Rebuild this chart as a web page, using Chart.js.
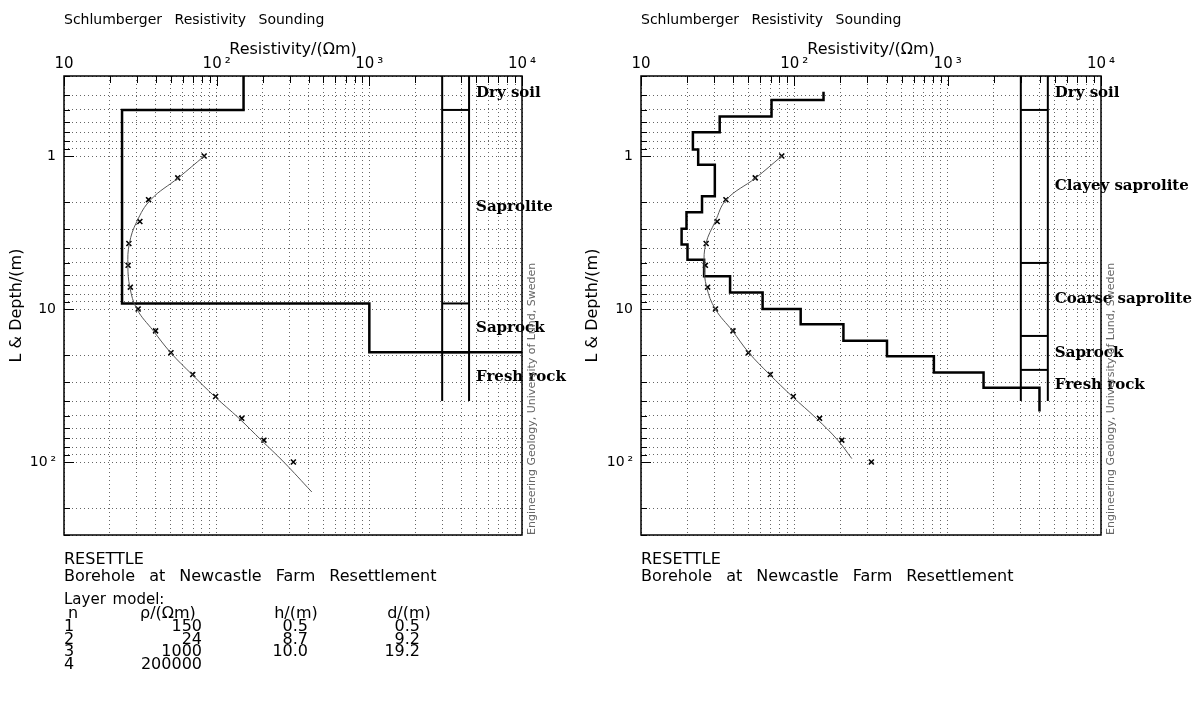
<!DOCTYPE html>
<html>
<head>
<meta charset="utf-8">
<script src="https://cdn.jsdelivr.net/npm/chart.js@4.4.0/dist/chart.umd.min.js"></script>
<style>
	body { margin: 0; background: #fff; }
	canvas { position: absolute; top: 0; }
	#left { left: 0; }
	#right { left: 580px; }
</style>
</head>
<body>
<canvas id="left" width="580" height="701"></canvas>
<canvas id="right" width="624" height="701"></canvas>
<script>
/* globals Chart:false */
// axes
const rhoMin = 10, rhoMax = 10000;
const depthMin = 0.3, depthMax = 300;
const xDecades = [10, 100, 1000, 10000];
const xTickLabels = ['10', '10\u2009²', '10\u2009³', '10\u2009⁴'];
const yDecades = [1, 10, 100];
const yTickLabels = ['1', '10', '10\u2009²'];

// field data (same sounding in both panels)
const fieldSpacing = [1, 1.39, 1.93, 2.68, 3.73, 5.18, 7.2, 10, 13.9, 19.3, 26.8, 37.3, 51.8, 72, 100];
const fieldRho = [82.8, 55.6, 35.8, 31.4, 26.6, 26.3, 27.2, 30.6, 39.8, 50.2, 69.7, 98.4, 146, 204, 318];

// left panel: 4 layer model
const leftCurveDepth = [1, 1.39, 1.93, 2.68, 3.73, 5.18, 7.2, 10, 13.9, 19.3, 26.8, 37.3, 51.8, 72, 100, 157];
const leftCurveRho = [83, 56, 37, 30, 26.8, 26.2, 27, 30, 38.5, 50, 69, 97, 140, 196, 275, 420];
const leftModelTop = 0.3;
const leftModelRho = [150, 24, 1000, 200000];
const leftModelBottom = [0.5, 9.2, 19.2];
const leftLayerNames = ['Dry soil', 'Saprolite', 'Saprock', 'Fresh rock'];
const leftLayerBounds = [0.3, 0.5, 9.2, 19.2, 40];

// right panel: many layer model
const rightCurveDepth = [1, 1.39, 1.93, 2.68, 3.73, 5.18, 7.2, 10, 13.9, 19.3, 26.8, 37.3, 51.8, 72, 95];
const rightCurveRho = [83, 56, 36, 30.5, 26.5, 25.8, 26.8, 30.5, 39.5, 50.5, 69, 97, 139, 192, 237];
const rightModelTop = 0.38;
const rightModelRho = [155, 71, 32.6, 21.8, 23.6, 30.3, 25, 19.8, 18.4, 20.1, 25.8, 38.1, 62.1, 110, 209, 402, 813, 1714, 3970];
const rightModelBottom = [0.43, 0.552, 0.70, 0.907, 1.14, 1.83, 2.33, 2.99, 3.79, 4.77, 6.1, 7.8, 10, 12.6, 16.1, 20.4, 26, 32.7, 46.8];
const rightLayerNames = ['Dry soil', 'Clayey saprolite', 'Coarse saprolite', 'Saprock', 'Fresh rock'];
const rightLayerBounds = [0.3, 0.5, 5, 15, 25, 40];

// lithology column
const columnRho = [3000, 4500];

// layer model table
const tableN = ['1', '2', '3', '4'];
const tableRho = ['150', '24', '1000', '200000'];
const tableH = ['0.5', '8.7', '10.0', ''];
const tableD = ['0.5', '9.2', '19.2', ''];

const titleText = 'Schlumberger Resistivity Sounding';
const creditText = 'Engineering Geology, University of Lund, Sweden';

function gridValues(min, max) {
	let vals = [];
	for (let e = Math.floor(Math.log10(min)); e <= Math.ceil(Math.log10(max)); e++) {
		for (let m = 1; m < 10; m++) {
			let v = +(m * Math.pow(10, e)).toPrecision(6);
			if (v >= min && v <= max) vals.push(v);
		}
	}
	return vals;
}

function zip(xs, ys) {
	return xs.map((v, i) => ({x: v, y: ys[i]}));
}

function stepPoints(top, rho, bottoms) {
	let pts = [];
	let t = top;
	rho.forEach((r, i) => {
		pts.push({x: r, y: t});
		if (i < bottoms.length) {
			pts.push({x: r, y: bottoms[i]});
			t = bottoms[i];
		}
	});
	return pts;
}

function columnSegments(bounds) {
	let segs = [];
	let bottom = bounds[bounds.length - 1];
	columnRho.forEach(r => segs.push([{x: r, y: depthMin}, {x: r, y: bottom}]));
	bounds.slice(1, -1).forEach(b => segs.push([{x: columnRho[0], y: b}, {x: columnRho[1], y: b}]));
	return segs;
}

function drawText(ctx, text, x, y, font, align) {
	ctx.font = font;
	ctx.textAlign = align || 'left';
	ctx.fillText(text, x, y);
}

function makeDecor(panel) {
	return {
		id: 'decor',
		afterDraw(chart) {
			const {ctx, chartArea: a, scales: {x, y}} = chart;
			ctx.save();
			ctx.strokeStyle = '#000';
			ctx.fillStyle = '#000';

			// inner ticks
			ctx.lineWidth = 1;
			ctx.beginPath();
			x.ticks.forEach(t => {
				let px = Math.round(x.getPixelForValue(t.value)) + 0.5;
				let len = xDecades.includes(t.value) ? 10 : 7;
				ctx.moveTo(px, a.top);
				ctx.lineTo(px, a.top + len);
			});
			y.ticks.forEach(t => {
				let py = Math.round(y.getPixelForValue(t.value)) + 0.5;
				let len = yDecades.includes(t.value) ? 10 : 6;
				ctx.moveTo(a.left, py);
				ctx.lineTo(a.left + len, py);
			});
			ctx.stroke();

			// frame
			ctx.lineWidth = 1.5;
			ctx.strokeRect(a.left, a.top, a.right - a.left, a.bottom - a.top);

			ctx.textBaseline = 'middle';
			ctx.wordSpacing = '8px';
			drawText(ctx, titleText, a.left, 20, '14px "DejaVu Sans"');

			// layer names
			ctx.wordSpacing = '0px';
			let lx = x.getPixelForValue(columnRho[1]) + 7;
			panel.names.forEach((name, i) => {
				let mid = Math.sqrt(panel.bounds[i] * panel.bounds[i + 1]);
				drawText(ctx, name, lx, y.getPixelForValue(mid), 'bold 15px "DejaVu Serif"');
			});

			// credit, rotated
			ctx.save();
			ctx.translate(a.right + 10, a.bottom);
			ctx.rotate(-Math.PI / 2);
			ctx.fillStyle = '#666';
			drawText(ctx, creditText, 0, 0, '11px "DejaVu Sans"');
			ctx.restore();

			// notes below the plot
			ctx.wordSpacing = '9px';
			drawText(ctx, 'RESETTLE', a.left, 560, '16px "DejaVu Sans"');
			drawText(ctx, 'Borehole at Newcastle Farm Resettlement', a.left, 577, '16px "DejaVu Sans"');

			if (panel.table) {
				ctx.wordSpacing = '2px';
				drawText(ctx, 'Layer model:', a.left, 600, '15px "DejaVu Sans"');
				ctx.wordSpacing = '0px';
				const f = '16px "DejaVu Sans"';
				let hy = 614;
				drawText(ctx, 'n', 73, hy, f, 'center');
				drawText(ctx, 'ρ/(Ωm)', 140, hy, f);
				drawText(ctx, 'h/(m)', 296, hy, f, 'center');
				drawText(ctx, 'd/(m)', 409, hy, f, 'center');
				tableN.forEach((n, i) => {
					let ry = hy + 12.7 * (i + 1);
					drawText(ctx, n, 69, ry, f, 'center');
					drawText(ctx, tableRho[i], 202, ry, f, 'right');
					drawText(ctx, tableH[i], 308, ry, f, 'right');
					drawText(ctx, tableD[i], 420, ry, f, 'right');
				});
			}
			ctx.restore();
		}
	};
}

function makeChart(canvasId, panel) {
	let datasets = [];
	datasets.push({
		data: zip(panel.curveRho, panel.curveDepth),
		showLine: true,
		borderColor: '#555',
		borderWidth: 1,
		pointRadius: 0,
		tension: 0.4
	});
	datasets.push({
		data: zip(fieldRho, fieldSpacing),
		pointStyle: 'crossRot',
		pointRadius: 3.5,
		borderColor: '#000',
		borderWidth: 1.6
	});
	datasets.push({
		data: stepPoints(panel.modelTop, panel.modelRho, panel.modelBottom),
		showLine: true,
		borderColor: '#000',
		borderWidth: 2.5,
		pointRadius: 0
	});
	columnSegments(panel.bounds).forEach(seg => {
		datasets.push({
			data: seg,
			showLine: true,
			borderColor: '#000',
			borderWidth: 2,
			pointRadius: 0
		});
	});

	return new Chart(document.getElementById(canvasId), {
		type: 'scatter',
		data: {datasets: datasets},
		options: {
			responsive: false,
			animation: false,
			events: [],
			layout: {padding: {left: 0, top: 0, right: panel.padRight, bottom: 166}},
			plugins: {legend: {display: false}, tooltip: {enabled: false}},
			scales: {
				x: {
					type: 'logarithmic',
					position: 'top',
					min: rhoMin,
					max: rhoMax,
					afterBuildTicks: (scale) => {
						scale.ticks = gridValues(rhoMin, rhoMax).map(v => ({value: v}));
					},
					afterFit: (scale) => { scale.height = 76; },
					grid: {color: '#666', lineWidth: 1, drawTicks: false},
					border: {display: false, dash: [1, 3]},
					ticks: {
						autoSkip: false,
						maxRotation: 0,
						padding: 3,
						color: '#000',
						font: {family: 'DejaVu Sans', size: 15},
						callback: (value) => {
							let i = xDecades.indexOf(value);
							return i >= 0 ? xTickLabels[i] : '';
						}
					},
					title: {
						display: true,
						text: 'Resistivity/(Ωm)',
						color: '#000',
						font: {family: 'DejaVu Sans', size: 16},
						padding: {top: 40, bottom: 0}
					}
				},
				y: {
					type: 'logarithmic',
					reverse: true,
					min: depthMin,
					max: depthMax,
					afterBuildTicks: (scale) => {
						scale.ticks = gridValues(depthMin, depthMax).map(v => ({value: v}));
					},
					afterFit: (scale) => { scale.width = panel.axisWidth; },
					grid: {color: '#666', lineWidth: 1, drawTicks: false},
					border: {display: false, dash: [1, 3]},
					ticks: {
						autoSkip: false,
						padding: 8,
						color: '#000',
						font: {family: 'DejaVu Sans', size: 14},
						callback: (value) => {
							let i = yDecades.indexOf(value);
							return i >= 0 ? yTickLabels[i] : '';
						}
					},
					title: {
						display: true,
						text: 'L & Depth/(m)',
						color: '#000',
						font: {family: 'DejaVu Sans', size: 16},
						padding: {top: panel.titlePad, bottom: 0}
					}
				}
			}
		},
		plugins: [makeDecor(panel)]
	});
}

makeChart('left', {
	curveRho: leftCurveRho, curveDepth: leftCurveDepth,
	modelTop: leftModelTop, modelRho: leftModelRho, modelBottom: leftModelBottom,
	names: leftLayerNames, bounds: leftLayerBounds,
	table: true, axisWidth: 64, padRight: 58, titlePad: 7
});

makeChart('right', {
	curveRho: rightCurveRho, curveDepth: rightCurveDepth,
	modelTop: rightModelTop, modelRho: rightModelRho, modelBottom: rightModelBottom,
	names: rightLayerNames, bounds: rightLayerBounds,
	table: false, axisWidth: 61, padRight: 103, titlePad: 3
});
</script>
</body>
</html>
